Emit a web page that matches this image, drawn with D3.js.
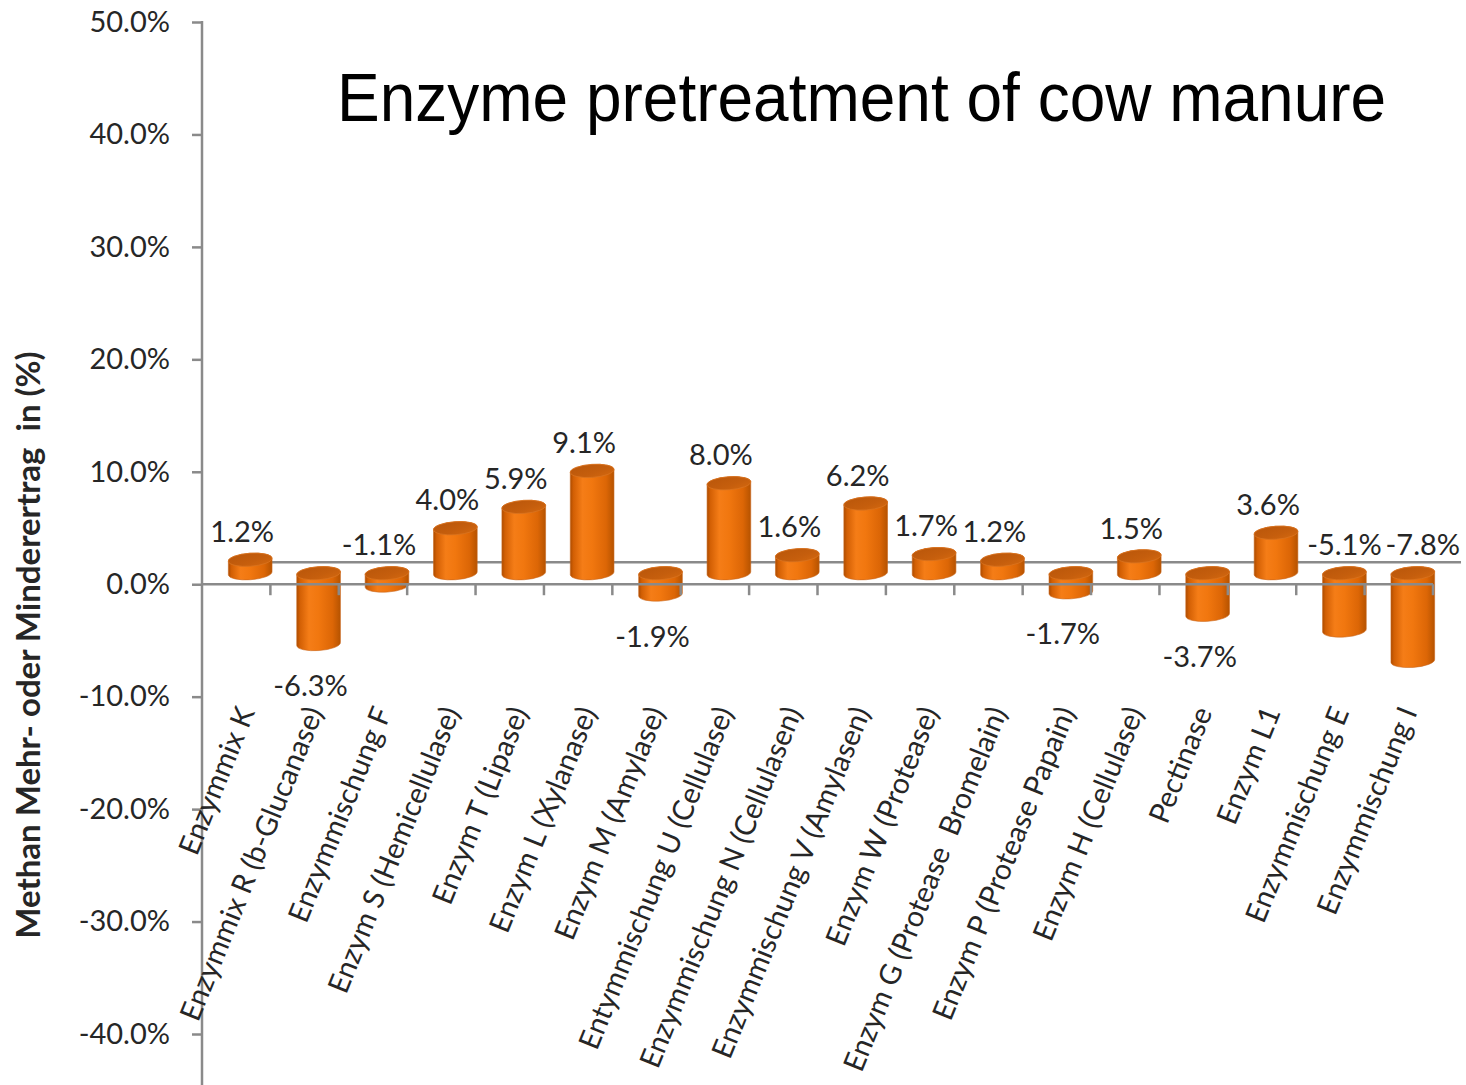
<!DOCTYPE html>
<html><head><meta charset="utf-8">
<script src="https://cdn.jsdelivr.net/npm/d3@7"></script>
<style>
html,body{margin:0;padding:0;background:#fff;}
text{white-space:pre;}
</style>
</head><body>
<script>
const categories = [
  "Enzymmix K",
  "Enzymmix R (b-Glucanase)",
  "Enzymmischung F",
  "Enzym S (Hemicellulase)",
  "Enzym T (Lipase)",
  "Enzym L (Xylanase)",
  "Enzym M (Amylase)",
  "Entymmischung U (Cellulase)",
  "Enzymmischung N (Cellulasen)",
  "Enzymmischung V (Amylasen)",
  "Enzym W (Protease)",
  "Enzym G (Protease  Bromelain)",
  "Enzym P (Protease Papain)",
  "Enzym H (Cellulase)",
  "Pectinase",
  "Enzym L1",
  "Enzymmischung E",
  "Enzymmischung I"
];
const values = [1.2, -6.3, -1.1, 4.0, 5.9, 9.1, -1.9, 8.0, 1.6, 6.2, 1.7, 1.2, -1.7, 1.5, -3.7, 3.6, -5.1, -7.8];
// where Excel put each data label: "top" = above the upper cap, "bottom" = below the lower cap
const labelSide = ["top","bottom","top","top","top","top","bottom","top","top","top","top","top","bottom","top","bottom","top","top","top"];
const yTicks = [50, 40, 30, 20, 10, 0, -10, -20, -30, -40];
const title = "Enzyme pretreatment of cow manure";
const yTitle = "Methan Mehr- oder Minderertrag  in (%)";

const W = 1466, H = 1085;
const axisX = 202, plotRight = 1433;
const depthDx = 14, depthDy = -11; // bar offset into the 3D depth
const gray = "#8a8a8a";
const textColor = "#262626";
const labelFont = "Lato, 'Open Sans', sans-serif";

const svg = d3.select("body").append("svg").attr("width", W).attr("height", H);

const defs = svg.append("defs");
const grad = defs.append("linearGradient").attr("id", "cyl").attr("x1", "0").attr("x2", "1").attr("y1", "0").attr("y2", "0");
[["0%", "#ad4c00"], ["7%", "#d25f04"], ["28%", "#f57d17"], ["50%", "#f1770f"], ["82%", "#dc6606"], ["100%", "#b65300"]]
  .forEach(([o, c]) => grad.append("stop").attr("offset", o).attr("stop-color", c));
const topGrad = defs.append("linearGradient").attr("id", "cap").attr("x1", "0").attr("x2", "1").attr("y1", "0").attr("y2", "1");
[["0%", "#b9560a"], ["60%", "#c55e0d"], ["100%", "#d4680f"]]
  .forEach(([o, c]) => topGrad.append("stop").attr("offset", o).attr("stop-color", c));

const x = d3.scaleBand().domain(categories).range([axisX, plotRight]).padding(0);
const y = d3.scaleLinear().domain([-40, 50]).range([1034, 22]);

// back-wall zero line
svg.append("line")
  .attr("x1", axisX + 2 * depthDx).attr("x2", plotRight + 2 * depthDx)
  .attr("y1", y(0) + 2 * depthDy).attr("y2", y(0) + 2 * depthDy)
  .attr("stroke", gray).attr("stroke-width", 2.5);

// cylinders
const rx = x.bandwidth() * 0.32, ry = 6.5;
const phi = -4 * Math.PI / 180;
const data = categories.map((c, i) => ({ c, v: values[i], side: labelSide[i] }));

function ellPt(cx, cy, t) {
  return [cx + rx * Math.cos(t) * Math.cos(phi) - ry * Math.sin(t) * Math.sin(phi),
          cy + rx * Math.cos(t) * Math.sin(phi) + ry * Math.sin(t) * Math.cos(phi)];
}
const bars = svg.append("g").selectAll("g").data(data).join("g");
bars.each(function (d) {
  const g = d3.select(this);
  const cx = x(d.c) + x.bandwidth() / 2 + depthDx;
  const yTop = Math.min(y(d.v), y(0)) + depthDy;
  const yBot = Math.max(y(d.v), y(0)) + depthDy;
  const rot = phi * 180 / Math.PI;
  const lT = ellPt(cx, yTop, Math.PI), rT = ellPt(cx, yTop, 0);
  const lB = ellPt(cx, yBot, Math.PI), rB = ellPt(cx, yBot, 0);
  const p = `M${lT[0]},${lT[1]} L${lB[0]},${lB[1]} A${rx},${ry} ${rot} 0 0 ${rB[0]},${rB[1]} L${rT[0]},${rT[1]} A${rx},${ry} ${rot} 0 0 ${lT[0]},${lT[1]} Z`;
  g.append("path").attr("d", p).attr("fill", "url(#cyl)").attr("stroke", "#c9661c").attr("stroke-width", 0.6);
  g.append("ellipse").attr("cx", cx).attr("cy", yTop).attr("rx", rx).attr("ry", ry)
    .attr("transform", `rotate(${rot},${cx},${yTop})`)
    .attr("fill", "url(#cap)").attr("stroke", "#d9731f").attr("stroke-width", 0.8);
  d.cx = cx; d.yTop = yTop; d.yBot = yBot;
});

// front zero axis with ticks at category boundaries
svg.append("line").attr("x1", axisX).attr("x2", plotRight).attr("y1", y(0)).attr("y2", y(0))
  .attr("stroke", gray).attr("stroke-width", 2.5);
svg.append("g").selectAll("line").data(categories).join("line")
  .attr("x1", d => x(d) + x.bandwidth()).attr("x2", d => x(d) + x.bandwidth())
  .attr("y1", y(0)).attr("y2", y(0) + 11)
  .attr("stroke", gray).attr("stroke-width", 2.5);

// y axis
const yAxis = d3.axisLeft(y).tickValues(yTicks).tickFormat(d => d.toFixed(1) + "%").tickSize(10).tickPadding(22);
const ga = svg.append("g").attr("transform", `translate(${axisX},0)`).call(yAxis);
ga.select(".domain").remove();
ga.selectAll(".tick line").attr("stroke", gray).attr("stroke-width", 2.5);
ga.selectAll(".tick text").attr("font-family", labelFont).attr("font-size", 29).attr("fill", textColor);
svg.append("line").attr("x1", axisX).attr("x2", axisX).attr("y1", y(50) - 1).attr("y2", H)
  .attr("stroke", gray).attr("stroke-width", 2.5);

// data labels
svg.append("g").selectAll("text").data(data).join("text")
  .attr("x", (d, i) => d.cx - 8 + (i === 16 ? 8 : 0) + (i === 17 ? 18 : 0))
  .attr("y", d => d.side === "top" ? d.yTop - 28 : d.yBot + 42)
  .attr("dy", "0.35em")
  .attr("text-anchor", "middle")
  .attr("font-family", labelFont).attr("font-size", 29).attr("fill", textColor)
  .text(d => d.v.toFixed(1) + "%");

// category labels
svg.append("g").selectAll("text").data(categories).join("text")
  .attr("transform", d => `translate(${x(d) + x.bandwidth() / 2 + depthDx + 5},${712}) rotate(-68)`)
  .attr("text-anchor", "end")
  .attr("font-family", labelFont).attr("font-size", 29).attr("fill", textColor)
  .text(d => d);

// y title
svg.append("text")
  .attr("transform", `translate(40,645) rotate(-90)`)
  .attr("text-anchor", "middle")
  .attr("font-family", labelFont).attr("font-weight", "bold").attr("font-size", 33).attr("fill", textColor)
  .text(yTitle);

// chart title
svg.append("text")
  .attr("transform", "translate(337,121) scale(1,1.06)")
  .attr("font-family", "'Liberation Sans', Arial, sans-serif").attr("font-size", 64).attr("fill", "#000")
  .text(title);
</script>
</body></html>
